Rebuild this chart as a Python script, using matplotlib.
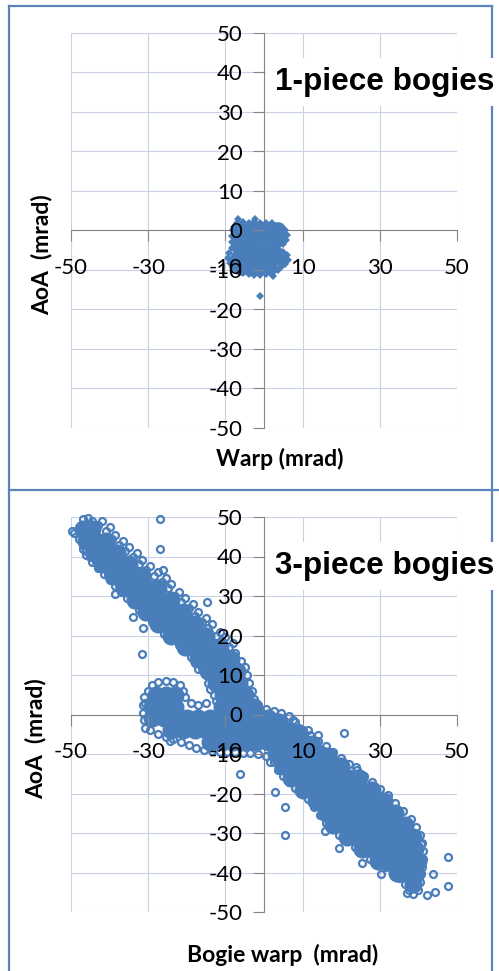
"""Wheelset angle of attack against bogie warp for 1-piece and 3-piece bogies."""

import matplotlib
matplotlib.use("Agg")
import matplotlib.pyplot as plt
from matplotlib.lines import Line2D

W, H = 499, 971

BLUE = "#4a7ebb"
GRID = "#c9d1e6"
AXIS = "#868686"
FRAME = "#5b84ba"

X_TICKS = [-50, -30, -10, 10, 30, 50]
X_TICK_LABELS = ["-50", "-30", "-10", "10", "30", "50"]
Y_TICKS = [-50, -40, -30, -20, -10, 0, 10, 20, 30, 40, 50]
Y_TICK_LABELS = ["-50", "-40", "-30", "-20", "-10", "0", "10", "20", "30", "40", "50"]

# 1-piece bogies: (warp, AoA) in mrad, solid middle of the cloud
one_piece_core = [
    (-6.5, 0.5), (-4, 0.5), (-1.5, 0.5), (1, 0.5), (3.5, 0.5),
    (-6.5, -2), (-4, -2), (-1.5, -2), (1, -2), (3.5, -2),
    (-6.5, -4.5), (-4, -4.5), (-1.5, -4.5), (1.5, -4.5),
    (-7, -7), (-4.5, -7), (-2, -7), (0.5, -7), (3, -7), (4.5, -7),
    (-6, -9.5), (-3.5, -9.5), (-1, -9.5), (1.5, -9.5),
]

# 1-piece bogies: points around the outline of the cloud and strays
one_piece_edge = [
    (-7, 1.8), (-5.5, 2.1), (-4, 2.0), (-2.5, 2.2), (-1, 2.0), (0.5, 1.9),
    (2, 1.8), (3.2, 1.2), (4.5, 0.8), (5.5, 0), (6, -1.2), (5.8, -2.5),
    (4.8, -3.4), (3.5, -4), (3.8, -5.0), (5, -5.5), (6, -6.2), (6.1, -7.4),
    (5.5, -8.5), (4.5, -9.3), (3.5, -10), (2, -10.6), (0.5, -11), (-1, -11.2),
    (-2.5, -11.2), (-4, -11), (-5.5, -10.8), (-7, -10.2), (-8, -9.3),
    (-8.8, -8.2), (-9.2, -7), (-9, -5.8), (-8.4, -4.5), (-8.3, -3),
    (-8.3, -1.5), (-8.1, 0), (-7.8, 1),
    (-6.7, 3.0), (-2.3, 3.0), (2.4, -11.4), (-1.0, -16.7),
]

# 3-piece bogies: solid middle of the two bands and the centre cluster
three_piece_core = [
    (-47, 47), (-44.5, 47),
    (-46, 44), (-43.5, 44), (-41, 44),
    (-44, 41), (-41, 41), (-38, 41),
    (-42, 38), (-39.5, 38), (-37, 38), (-35, 38),
    (-39, 35), (-36.5, 35), (-34, 35), (-31.5, 35),
    (-36, 32), (-33, 32), (-30, 32), (-27.5, 32),
    (-33.5, 29), (-30.5, 29), (-27.5, 29), (-24, 29),
    (-30.5, 26), (-27.5, 26), (-24.5, 26), (-21, 26),
    (-27.5, 23), (-24.5, 23), (-21.5, 23), (-18, 23),
    (-24, 20), (-21, 20), (-18, 20), (-15, 20),
    (-20.5, 17), (-17.5, 17), (-14.5, 17), (-11.5, 17),
    (-17, 14), (-14, 14), (-11, 14), (-8.5, 14),
    (-14.5, 11), (-11.5, 11), (-9, 11), (-7, 11),
    (-12.5, 8), (-9.5, 8), (-6.5, 8),
    (-28, 5), (-25.5, 5), (-23, 5), (-10.5, 5), (-7.5, 5), (-5, 5),
    (-29, 2), (-26, 2), (-23, 2), (-11, 2), (-8, 2), (-5, 2), (-2.7, 2),
    (-29, -1), (-26, -1), (-23, -1), (-20, -1), (-17, -1), (-14, -1),
    (-11, -1), (-8, -1), (-5, -1), (-2, -1), (1, -1), (4, -2),
    (-24, -4), (-21, -4), (-18, -4), (-15, -4), (-12, -4), (-9, -4),
    (-6, -4), (-3, -4), (0, -4), (3, -4), (6, -4), (8.5, -4.5),
    (-14, -7), (-11, -7), (-8, -7), (-5, -7), (-2, -7), (1, -7), (4, -7),
    (7, -7), (10, -7), (12.5, -7.5),
    (3, -10), (6, -10), (9, -10), (12, -10), (14.5, -10), (16.5, -10.5),
    (5, -13), (8, -13), (11, -13), (14, -13), (17, -13), (20, -13),
    (7, -16), (10, -16), (13, -16), (16, -16), (19, -16), (22, -16), (24.5, -16),
    (10, -19), (13, -19), (16, -19), (19, -19), (22, -19), (25, -19), (28, -19),
    (13.5, -22), (16, -22), (19, -22), (22, -22), (25, -22), (28, -22), (31, -22),
    (16, -25), (19, -25), (22, -25), (25, -25), (28, -25), (31, -25), (34, -25),
    (18, -28), (21, -28), (24, -28), (27, -28), (30, -28), (33, -28), (36.5, -28),
    (21.5, -31), (24, -31), (27, -31), (30, -31), (33, -31), (36, -31), (38.5, -31),
    (25.5, -34), (28, -34), (31, -34), (34, -34), (37, -34), (39, -34),
    (29.5, -37), (32, -37), (35, -37), (38, -37), (40, -37),
    (34.5, -40), (37, -40), (39.5, -40),
    (38.5, -43),
]

# 3-piece bogies: points along the band outlines and the strays
three_piece_edge = [
    # top of the upper band
    (-47, 49.5), (-45.5, 49.8), (-44.5, 49), (-46.5, 48),
    # upper band, upper edge
    (-43, 48), (-41, 46.5), (-39.5, 44.5), (-37.5, 43), (-36, 41.5), (-34, 40),
    (-32.5, 38), (-30.5, 36.5), (-28.5, 35), (-26.5, 33.5), (-25, 32), (-23, 30),
    (-21.5, 28.5), (-19.5, 27), (-18, 25), (-16, 23.5), (-14.5, 22), (-12.5, 20),
    (-11, 18.5), (-9, 17), (-7.5, 15.5), (-6, 13.5), (-5, 12), (-4.5, 10),
    (-4, 8), (-3, 6), (-2.5, 4),
    (-42, 49), (-40, 47.5), (-38.5, 45.5), (-36.5, 44), (-35, 42.5), (-33, 41),
    (-31.5, 39), (-29.5, 37.5), (-27.5, 36), (-25.5, 34.5), (-24, 33),
    (-22, 31), (-20.5, 29.5), (-18.5, 28), (-17, 26), (-15, 24.5),
    (-13.5, 23), (-11.5, 21), (-10, 19.5), (-8, 18),
    # upper band, lower edge
    (-49.3, 46), (-48, 44.5), (-47, 43), (-46, 41.5), (-45, 40), (-43.5, 38.5),
    (-42, 37), (-40.5, 35.5), (-39, 34), (-37.5, 32.5), (-36, 31), (-34.5, 29.5),
    (-33, 28), (-31.5, 26.5), (-30, 25), (-28, 23.5), (-26.5, 22), (-25, 20.5),
    (-23, 19), (-21, 17.5), (-19.5, 16), (-18, 14.5), (-16.8, 13), (-16, 11.5),
    (-15, 10), (-14.5, 8), (-14, 6.5), (-13, 5), (-12.5, 3.5),
    (-47, 42), (-46, 40.5), (-44.5, 38.5), (-43, 37), (-41.5, 35.5),
    (-40, 34), (-38.5, 32.5), (-37, 31), (-35.5, 29.5), (-34, 28),
    (-32.5, 26.5), (-31, 25), (-29, 23.5), (-27.5, 22), (-26, 20.5),
    (-24, 19), (-22, 17.5), (-20.5, 16), (-19, 14.5), (-17.8, 13), (-17, 11.5),
    # centre cluster outline
    (-30, 6), (-29, 7.5), (-27.5, 8.3), (-25.5, 8.5), (-23.5, 8.3), (-21.8, 7.5),
    (-21, 6), (-20.5, 4.5), (-31, 4.5), (-31.3, 2.5), (-31.3, 0.5), (-31, -1.5),
    (-19, 2.8), (-17, 2.5), (-15, 2.8),
    (-29.5, -4), (-27.5, -5), (-25.5, -5.8), (-23.5, -6.3), (-21.5, -7),
    (-19.5, -7.8), (-17.5, -8.5), (-15.5, -9), (-13.5, -9.3), (-11.5, -9.5),
    (-9.5, -9.5), (-7.5, -9.6), (-5.5, -9.8), (-3.5, -9.8), (-1.5, -10),
    (0.5, -10.5), (1.5, -12),
    # crossing, upper edge
    (-1.5, 2.5), (0.5, 1.5), (2.5, 1), (4.5, 0.3), (6.5, -0.5), (8, -2),
    # lower band, upper edge
    (10, -3.8), (12, -5.2), (14, -6.6), (16, -8), (18, -9.5), (20, -11),
    (22, -12.5), (24, -14), (26, -15.5), (28, -17), (30, -18.8), (32, -20.5),
    (34, -22.5), (36, -24.5), (38, -26.5), (39.5, -28.5), (40.5, -30.5),
    (41, -32.5), (41.3, -34.5), (41.3, -36.5), (41, -38.5), (40.7, -40.5),
    (40.5, -42.5), (40, -44.5),
    # lower band, lower edge
    (2.5, -12), (3.5, -14), (4.8, -15.5), (6.5, -17), (8, -18.5), (9.8, -19.8),
    (11.5, -21.5), (13, -23.5), (14.5, -25.5), (16, -27.5), (17.8, -29),
    (19.5, -30.5), (21.5, -32), (23.5, -33.5), (25.5, -35), (27.5, -36.5),
    (29.5, -37.5), (31.5, -38.5), (33.5, -40), (35, -41.5), (36.5, -43),
    (37.5, -44.5), (38.5, -45.5),
    # strays
    (-49.7, 46.5), (-26.9, 49.6), (-26.9, 42), (-26.2, 36.5), (-14.8, 28.4),
    (-31.5, 15.3), (-34, 24.6), (-31.3, 22), (-38.6, 30.6), (-30.8, 2.8),
    (-30.8, -3.3), (-24.4, -6.6), (-6.2, -15), (2.8, -19.7), (5.4, -23.5),
    (5.4, -30.4), (7.6, -1.5), (11.4, -4), (14, -5.3), (20.6, -4.7),
    (23.8, -13.4), (47.6, -36.2), (47.6, -43.3), (44.3, -45), (42.2, -45.6),
    (43.8, -40.3), (40.7, -32.8), (37, -45.3), (30.3, -40.3), (25.3, -37.7),
    (19.5, -33.7), (15.8, -29.4),
]


def fig_xy(x, y):
    return x / W, 1 - y / H


def setup_axes(ax):
    for x in X_TICKS:
        ax.axvline(x, color=GRID, lw=0.8, zorder=0.5)
    for y in Y_TICKS:
        ax.axhline(y, color=GRID, lw=0.8, zorder=0.5)

    ax.set_xlim(-50, 50)
    ax.set_ylim(-50, 50)
    ax.set_facecolor("none")

    ax.spines[["top", "right"]].set_visible(False)
    for side in ("left", "bottom"):
        ax.spines[side].set_position(("data", 0))
        ax.spines[side].set_color(AXIS)
        ax.spines[side].set_linewidth(0.8)
        ax.spines[side].set_zorder(1)

    ax.set_xticks(X_TICKS, X_TICK_LABELS)
    ax.set_yticks(Y_TICKS, Y_TICK_LABELS)
    ax.tick_params(axis="both", direction="out", length=8, width=0.8,
                   color=AXIS, labelsize=16, labelcolor="black")
    ax.tick_params(axis="y", pad=7.5)
    ax.tick_params(axis="x", pad=11.5)
    # tick labels sit on top of the points
    ax.set_axisbelow(False)


def split(points):
    return [p[0] for p in points], [p[1] for p in points]


def main():
    plt.rcParams["font.family"] = ["Lato", "DejaVu Sans"]
    fig = plt.figure(figsize=(W / 100, H / 100), dpi=100)

    # panel frames
    frame = dict(color=FRAME, lw=1.6, transform=fig.transFigure)
    segments = [
        ((9, 6), (492, 6)), ((9, 6), (9, 971)), ((492, 6), (492, 971)),
        ((9, 490), (499, 490)),
    ]
    for (x0, y0), (x1, y1) in segments:
        a, b = fig_xy(x0, y0)
        c, d = fig_xy(x1, y1)
        fig.add_artist(Line2D([a, c], [b, d], **frame))

    ax_top = fig.add_axes([71 / W, 1 - 428 / H, 386 / W, 395 / H])
    ax_bot = fig.add_axes([71 / W, 1 - 912 / H, 386 / W, 395 / H])
    setup_axes(ax_top)
    setup_axes(ax_bot)

    # dense middle of each cloud as solid discs, outline as the plain markers
    x, y = split(one_piece_core)
    ax_top.scatter(x, y, s=10.5 ** 2, marker="o", color=BLUE, linewidths=0,
                   clip_on=False, zorder=2)
    x, y = split(one_piece_edge)
    ax_top.plot(x, y, ls="none", marker="D", ms=3.8, mfc=BLUE, mec=BLUE,
                mew=0, clip_on=False, zorder=2.1)

    x, y = split(three_piece_core)
    ax_bot.scatter(x, y, s=13.0 ** 2, marker="o", color=BLUE, linewidths=0,
                   clip_on=False, zorder=2)
    x, y = split(three_piece_edge)
    ax_bot.plot(x, y, ls="none", marker="o", ms=5.0, mfc="none", mec=BLUE,
                mew=1.6, clip_on=False, zorder=2.1)

    box = dict(facecolor="white", edgecolor="none", boxstyle="square,pad=0.3")
    for label, base in (("1-piece bogies", 90), ("3-piece bogies", 574)):
        fig.text(*fig_xy(275, base), label, ha="left", va="baseline",
                 fontsize=22.7, fontweight="bold", family="Liberation Sans",
                 bbox=box, zorder=5)

    label_kw = dict(fontsize=16.5, fontweight="bold", ha="center", va="center")
    fig.text(*fig_xy(280, 459), "Warp (mrad)", **label_kw)
    fig.text(*fig_xy(283, 955), "Bogie warp  (mrad)", **label_kw)
    fig.text(*fig_xy(42, 255), "AoA  (mrad)", rotation=90, **label_kw)
    fig.text(*fig_xy(36, 739), "AoA  (mrad)", rotation=90, **label_kw)

    fig.savefig("out.png", dpi=100)


if __name__ == "__main__":
    main()
